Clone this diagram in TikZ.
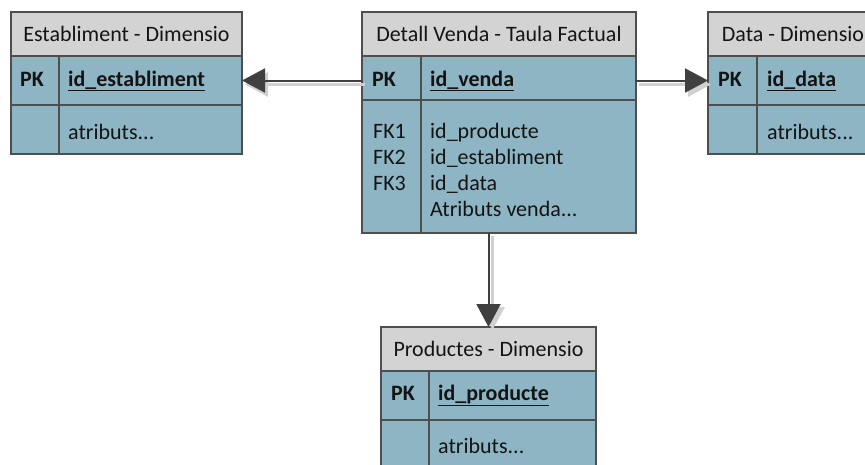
\documentclass[tikz,border=0pt]{standalone}
\usepackage{fontspec}
\setmainfont{Carlito}
\usetikzlibrary{arrows.meta}
\definecolor{hdr}{RGB}{211,211,211}
\definecolor{bdy}{RGB}{142,181,196}
\definecolor{brd}{RGB}{78,78,78}
\definecolor{arr}{RGB}{64,64,64}
\definecolor{shd}{RGB}{208,208,208}
\begin{document}
\begin{tikzpicture}[x=1pt,y=-1pt,
  cell/.style={draw=brd, line width=1.1pt, rectangle, inner sep=0pt, outer sep=0pt, anchor=north west},
  hcell/.style={cell, fill=hdr},
  bcell/.style={cell, fill=bdy},
  txt/.style={font=\fontsize{22}{26}\selectfont, inner sep=0pt, text=black!92},
  ctxt/.style={txt, anchor=base},
  ltxt/.style={txt, anchor=base west},
  divider/.style={draw=brd, line width=1.1pt},
  conn/.style={draw=arr, line width=2pt, -{Triangle[length=23pt,width=24pt]}},
  shconn/.style={draw=shd, line width=3pt, -{Triangle[length=23pt,width=24pt]}}]
\useasboundingbox (0,0) rectangle (865,464);
\clip (0,0) rectangle (865,464);

% ---- Establiment
\node[hcell, minimum width=231pt, minimum height=44pt] (Eh) at (11,12) {};
\node[bcell, minimum width=231pt, minimum height=49pt] (Epk) at (11,56) {};
\node[bcell, minimum width=231pt, minimum height=49pt] (Eb) at (11,105) {};
\draw[divider] (59,56) -- (59,154);
\node[ctxt] (Et) at (Eh.center |- 0,41) {Establiment - Dimensio};
\node[ctxt] (Epkl) at (32,86) {\bfseries PK};
\node[ltxt] (Eid) at (68,86) {\bfseries\underline{id\_establiment}};
\node[ltxt] (Eat) at (68,139) {atributs...};

% ---- Detall Venda
\node[hcell, minimum width=274pt, minimum height=44pt] (Vh) at (362,12) {};
\node[bcell, minimum width=274pt, minimum height=44pt] (Vpk) at (362,56) {};
\node[bcell, minimum width=274pt, minimum height=133pt] (Vb) at (362,100) {};
\draw[divider] (421,56) -- (421,233);
\node[ctxt] (Vt) at (Vh.center |- 0,41) {Detall Venda - Taula Factual};
\node[ctxt] (Vpkl) at (384,86) {\bfseries PK};
\node[ltxt] (Vid) at (430,86) {\bfseries\underline{id\_venda}};
\node[ltxt] (Vf1) at (373,138) {FK1};
\node[ltxt] (Vf2) at (373,164) {FK2};
\node[ltxt] (Vf3) at (373,190) {FK3};
\node[ltxt] (Va1) at (430,138) {id\_producte};
\node[ltxt] (Va2) at (430,164) {id\_establiment};
\node[ltxt] (Va3) at (430,190) {id\_data};
\node[ltxt] (Va4) at (430,216) {Atributs venda...};

% ---- Data
\node[hcell, minimum width=170pt, minimum height=44pt] (Dh) at (708,12) {};
\node[bcell, minimum width=170pt, minimum height=49pt] (Dpk) at (708,56) {};
\node[bcell, minimum width=170pt, minimum height=49pt] (Db) at (708,105) {};
\draw[divider] (757,56) -- (757,154);
\node[ctxt] (Dt) at (Dh.center |- 0,41) {Data - Dimensio};
\node[ctxt] (Dpkl) at (730,86) {\bfseries PK};
\node[ltxt] (Did) at (767,86) {\bfseries\underline{id\_data}};
\node[ltxt] (Dat) at (767,139) {atributs...};

% ---- Productes
\node[hcell, minimum width=215pt, minimum height=44pt] (Ph) at (381,327) {};
\node[bcell, minimum width=215pt, minimum height=49pt] (Ppk) at (381,371) {};
\node[bcell, minimum width=215pt, minimum height=49pt] (Pb) at (381,420) {};
\draw[divider] (429,371) -- (429,470);
\node[ctxt] (Pt) at (Ph.center |- 0,356) {Productes - Dimensio};
\node[ctxt] (Ppkl) at (403,400) {\bfseries PK};
\node[ltxt] (Pid) at (438,400) {\bfseries\underline{id\_producte}};
\node[ltxt] (Pat) at (438,453) {atributs...};

% ---- connectors
\coordinate (c1) at (Vpk.west |- Epk.east);
\coordinate (c2) at (Vpk.east |- Dpk.west);
\coordinate (c3) at (Vb.south -| Ph.north);
\path[shconn] ([shift={(3,4)}]c1) -- ([shift={(3,4)}]Epk.east);
\path[shconn] ([shift={(3,4)}]c2) -- ([shift={(3,4)}]Dpk.west);
\path[shconn] ([shift={(4,3)}]c3) -- ([shift={(4,3)}]Ph.north);
\path[conn] (c1) -- (Epk.east);
\path[conn] (c2) -- (Dpk.west);
\path[conn] (c3) -- (Ph.north);
\end{tikzpicture}
\end{document}
